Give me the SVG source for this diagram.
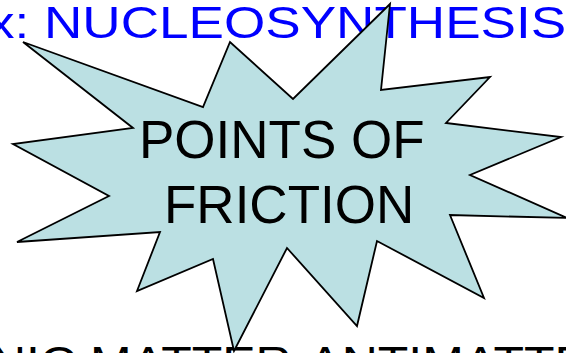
<svg xmlns="http://www.w3.org/2000/svg" width="566" height="353" viewBox="0 0 566 353">
<style>
.t{font-family:"Liberation Sans",Arial,sans-serif;}
.star{fill:#BBE0E3;stroke:#000;stroke-width:1.8;stroke-linejoin:miter;}
</style>
<rect width="566" height="353" fill="#fff"/>
<g id="title">
<text class="t" transform="scale(1.18,1)" x="-10.2" y="37.5" font-size="45" fill="#0000FF">x: NUCLEOSYNTHESIS</text>
</g>
<g id="bottom-text">
<text class="t" transform="scale(1.111,1)" x="-9" y="378" font-size="45" fill="#000">NIC MATTER-ANTIMATTER</text>
</g>
<g id="points-of-friction">
<polygon class="star" points="23,42 203,107 230,42 293,99 390,4 381,90 490,77 446,123 561,137 470,175 567,218 450,215 484,298 377,241 357,326 287,248 234,351 213,259 137,291 160,232 17,242 109,196 13,144 133,128"/>
<text class="t" x="139" y="158" font-size="53" fill="#000">POINTS OF</text>
<text class="t" x="164" y="223" font-size="53" fill="#000">FRICTION</text>
</g>
</svg>
